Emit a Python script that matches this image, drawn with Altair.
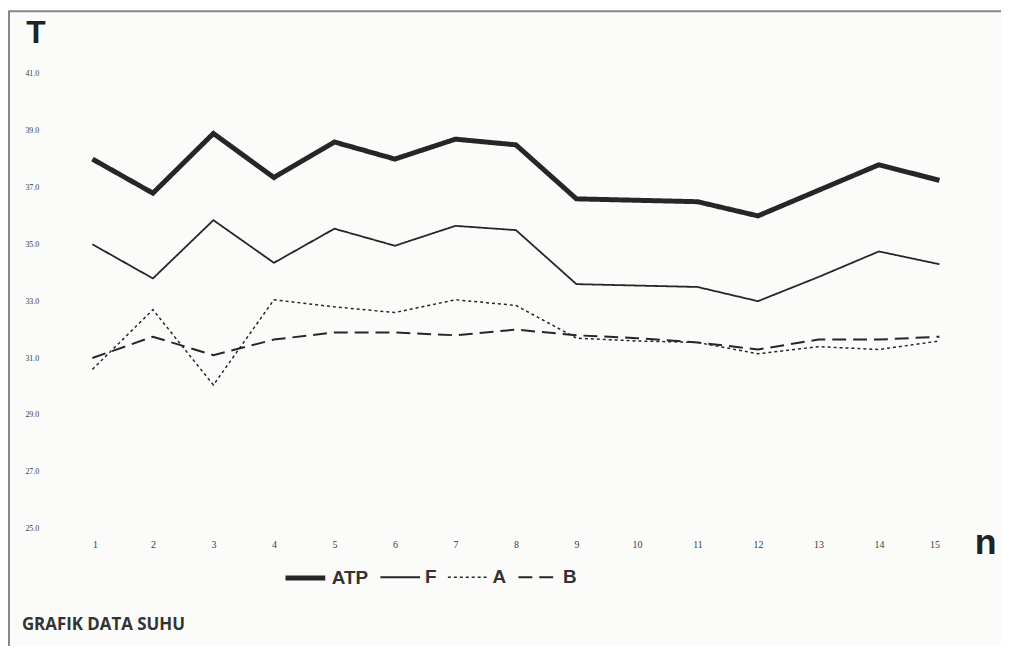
import altair as alt
import pandas as pd

n_vals = list(range(1, 16))
series_names = ["ATP", "F", "A", "B"]
atp = [38.0, 36.8, 38.9, 37.35, 38.6, 38.0, 38.7, 38.5, 36.6, 36.55, 36.5, 36.0, 36.9, 37.8, 37.25]
f_vals = [35.0, 33.8, 35.85, 34.35, 35.55, 34.95, 35.65, 35.5, 33.6, 33.55, 33.5, 33.0, 33.85, 34.75, 34.3]
a_vals = [30.6, 32.7, 30.05, 33.05, 32.8, 32.6, 33.05, 32.85, 31.7, 31.6, 31.55, 31.15, 31.4, 31.3, 31.6]
b_vals = [31.0, 31.75, 31.1, 31.65, 31.9, 31.9, 31.8, 32.0, 31.8, 31.7, 31.55, 31.3, 31.65, 31.65, 31.75]
y_ticks = [25, 27, 29, 31, 33, 35, 37, 39, 41]
chart_title = ["GRAFIK DATA SUHU"]

rows = []
for name, vals in zip(series_names, [atp, f_vals, a_vals, b_vals]):
    for n, v in zip(n_vals, vals):
        rows.append({"n": n, "T": v, "series": name})
df = pd.DataFrame(rows)

INK = "#262626"

legend_kw = dict(
    title=None, orient="none", legendX=192, legendY=485, direction="horizontal",
    symbolType="stroke", symbolSize=1600, symbolStrokeColor=INK,
    labelFont="Liberation Sans", labelFontSize=19, labelFontWeight="bold",
    labelColor="#333333", columnPadding=8, labelOffset=4,
)

lines = alt.Chart(df).mark_line(color=INK, strokeJoin="miter", strokeCap="butt").encode(
    x=alt.X("n:Q", scale=alt.Scale(domain=[1, 15], nice=False, zero=False),
            axis=alt.Axis(values=n_vals, format="d", title="n", domain=False, ticks=False, grid=False,
                          labelFont="Liberation Serif", labelFontSize=10, labelColor="#3a3a3a", labelPadding=11,
                          titleFont="Liberation Sans", titleFontSize=36, titleFontWeight="bold",
                          titleColor="#222222", titleX=888, titleY=14, titleAlign="left",
                          titleBaseline="middle", titleAngle=0)),
    y=alt.Y("T:Q", scale=alt.Scale(domain=[25, 41], nice=False, zero=False),
            axis=alt.Axis(values=y_ticks, format=".1f", title="T", domain=False, ticks=False, grid=False,
                          labelFont="Liberation Serif", labelFontSize=8, labelColor="#3a3a3a",
                          labelPadding=68, labelAlign="left",
                          titleFont="Liberation Sans", titleFontSize=32, titleFontWeight="bold",
                          titleColor="#222222", titleX=-67, titleY=-42, titleAlign="left",
                          titleBaseline="middle", titleAngle=0)),
    strokeDash=alt.StrokeDash("series:N", scale=alt.Scale(domain=series_names,
                              range=[[1, 0], [1, 0], [3, 3], [14, 7]]),
                              sort=series_names, legend=alt.Legend(**legend_kw)),
    strokeWidth=alt.StrokeWidth("series:N", scale=alt.Scale(type="ordinal", domain=series_names,
                                range=[5, 1.8, 1.5, 2]),
                                sort=series_names, legend=alt.Legend(**legend_kw)),
)

frame = alt.Chart(pd.DataFrame({"k": [0]})).mark_rect(fill="transparent", stroke="#888888", strokeWidth=2).encode(
    x=alt.value(-84), x2=alt.value(1000), y=alt.value(-63), y2=alt.value(700)
)

title_text = alt.Chart(pd.DataFrame({"t": chart_title})).mark_text(
    align="left", baseline="middle", font="Open Sans", fontSize=17, fontWeight="bold", color="#333333"
).encode(text="t:N", x=alt.value(-71), y=alt.value(555))

chart = alt.layer(frame, lines, title_text).properties(
    width=853, height=458,
    autosize=alt.AutoSizeParams(type="none"),
    padding={"left": 85, "top": 64, "right": 62, "bottom": 116},
    background="#fbfbfa",
).configure_view(stroke=None)

chart.save("out.html", embed_options={"renderer": "svg", "actions": False})
